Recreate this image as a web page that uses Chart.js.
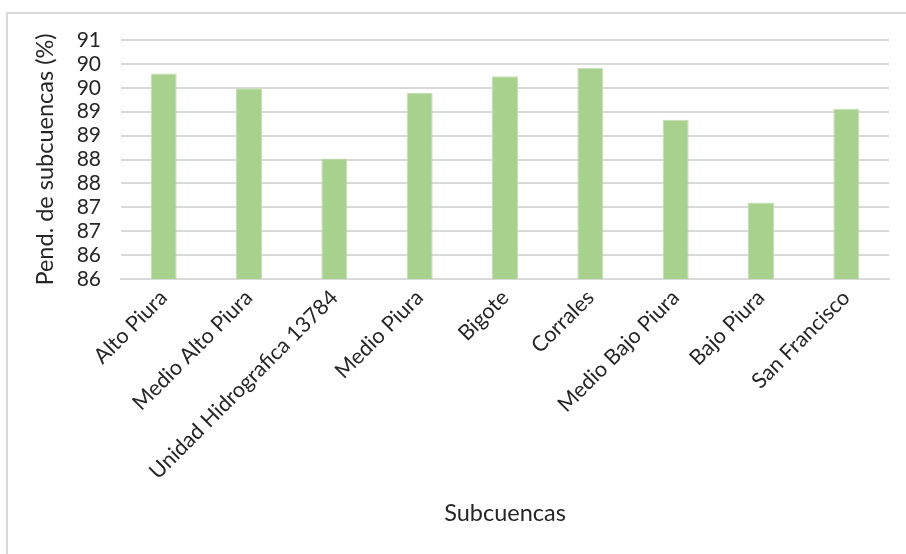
<!DOCTYPE html>
<html>
<head>
<meta charset="utf-8">
<style>
  html, body { margin: 0; padding: 0; background: #fff; }
  #wrap { position: relative; width: 906px; height: 554px; overflow: hidden; }
  #frame {
    position: absolute; left: 6px; top: 12px; right: -10px; bottom: -10px;
    border-left: 2px solid #D9D9D9; border-top: 2px solid #D9D9D9;
  }
  canvas { position: absolute; left: 0; top: 0; }
</style>
<script src="https://cdn.jsdelivr.net/npm/chart.js@4.4.0/dist/chart.umd.min.js"></script>
</head>
<body>
<div id="wrap">
  <div id="frame"></div>
  <canvas id="chart" width="906" height="554"></canvas>
</div>
<script>
  // ── Data ────────────────────────────────────────────────────────────
  var categories = [
    'Alto Piura', 'Medio Alto Piura', 'Unidad Hidrografica 13784', 'Medio Piura',
    'Bigote', 'Corrales', 'Medio Bajo Piura', 'Bajo Piura', 'San Francisco'
  ];
  var pendiente = [90.30, 89.99, 88.52, 89.89, 90.24, 90.42, 89.33, 87.60, 89.56];

  // Axis ticks: 0.5 steps, but labelled with whole numbers as in the source
  var yTickValues = [86, 86.5, 87, 87.5, 88, 88.5, 89, 89.5, 90, 90.5, 91];
  var yTickLabels = ['86', '86', '87', '87', '88', '88', '89', '89', '90', '90', '91'];

  var FONT = 'Lato, "Open Sans", sans-serif';
  var TEXT = '#262626';
  var GRID = '#D9D9D9';

  new Chart(document.getElementById('chart'), {
    type: 'bar',
    data: {
      labels: categories,
      datasets: [{
        data: pendiente,
        backgroundColor: '#A9D18E',
        borderColor: '#C5E0B4',
        borderWidth: 1,
        barPercentage: 1,
        categoryPercentage: 0.305,
      }],
    },
    options: {
      responsive: false,
      animation: false,
      layout: { padding: { left: 31, top: 40, right: 17, bottom: 26 } },
      plugins: { legend: { display: false }, tooltip: { enabled: false } },
      scales: {
        x: {
          grid: { display: false, drawTicks: false },
          border: { color: GRID, width: 2 },
          ticks: {
            color: TEXT,
            font: { family: FONT, size: 21.5 },
            minRotation: 45,
            maxRotation: 45,
            autoSkip: false,
            padding: 6,
          },
          title: {
            display: true,
            text: 'Subcuencas',
            color: TEXT,
            font: { family: FONT, size: 23.5 },
            padding: { top: 0, bottom: 0 },
          },
          afterFit: function (scale) { scale.height = 249; },
        },
        y: {
          min: 86,
          max: 91,
          grid: { color: GRID, lineWidth: 2, drawTicks: false },
          border: { display: false },
          afterBuildTicks: function (scale) {
            scale.ticks = yTickValues.map(function (v) { return { value: v }; });
          },
          ticks: {
            color: TEXT,
            font: { family: FONT, size: 21 },
            padding: 20,
            autoSkip: false,
            callback: function (value) {
              var i = yTickValues.indexOf(value);
              return i >= 0 ? yTickLabels[i] : '';
            },
          },
          title: {
            display: true,
            text: 'Pend. de subcuencas (%)',
            color: TEXT,
            font: { family: FONT, size: 23.5 },
            padding: { top: 0, bottom: 10 },
          },
          afterFit: function (scale) { scale.width = 90; },
        },
      },
    },
  });
</script>
</body>
</html>
